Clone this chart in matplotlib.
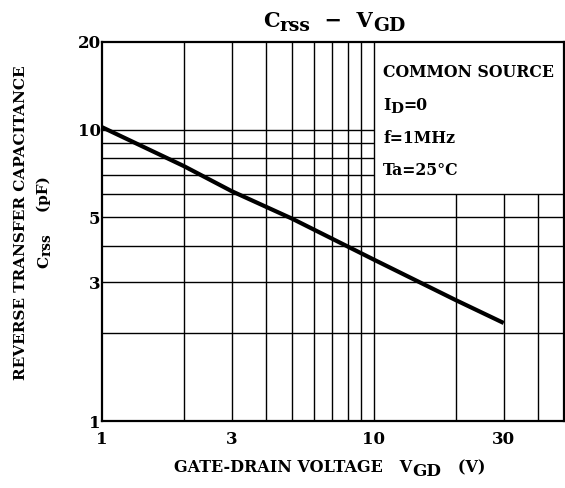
import matplotlib.pyplot as plt
from matplotlib.ticker import FixedLocator, NullLocator, FixedFormatter

plt.rcParams['font.family'] = 'DejaVu Serif'
plt.rcParams['font.weight'] = 'bold'

# curve
vgd = [1, 2, 3, 5, 10, 20, 30]
crss = [10.2, 7.5, 6.15, 4.95, 3.58, 2.6, 2.17]

x_ticks = [1, 3, 10, 30]
y_ticks = [1, 3, 5, 10, 20]
x_grid_full = [2, 3, 4, 5, 6, 7, 8, 9, 10]
x_grid_low = [20, 30, 40]
y_grid_full = [2, 3, 4, 5, 6]
y_grid_left = [7, 8, 9, 10]

W, H = 565, 488
fig = plt.figure(figsize=(W / 100, H / 100), dpi=100)
ax = fig.add_axes([102 / W, 67 / H, 462 / W, 379 / H])
ax.set_xscale('log')
ax.set_yscale('log')
ax.set_xlim(1, 50)
ax.set_ylim(1, 20)

# datasheet style grid, cut away behind the conditions box
ax.vlines(x_grid_full, 1, 20, color='black', lw=1.0, zorder=1)
ax.vlines(x_grid_low, 1, 6, color='black', lw=1.0, zorder=1)
ax.hlines(y_grid_full, 1, 50, color='black', lw=1.0, zorder=1)
ax.hlines(y_grid_left, 1, 10, color='black', lw=1.0, zorder=1)

ax.plot(vgd, crss, color='black', lw=3.0, solid_capstyle='butt', zorder=3)

for s in ax.spines.values():
    s.set_linewidth(1.6)

ax.xaxis.set_major_locator(FixedLocator(x_ticks))
ax.xaxis.set_major_formatter(FixedFormatter([str(v) for v in x_ticks]))
ax.yaxis.set_major_locator(FixedLocator(y_ticks))
ax.yaxis.set_major_formatter(FixedFormatter([str(v) for v in y_ticks]))
ax.xaxis.set_minor_locator(NullLocator())
ax.yaxis.set_minor_locator(NullLocator())
ax.tick_params(length=0, labelsize=12)
ax.tick_params(axis='x', pad=7)
ax.tick_params(axis='y', pad=1)

renderer = fig.canvas.get_renderer()


def runs(x, y, parts, size, rot=0, align='center'):
    """Draw text pieces one after another, in pixels from top-left.
    parts: (text, scale, drop) with drop in pixels (subscripts)."""
    texts = []
    total = 0
    for s, scale, drop in parts:
        t = fig.text(0, 0, s, fontsize=size * scale, rotation=rot,
                     rotation_mode='anchor', ha='left', va='baseline',
                     transform=None)
        bb = t.get_window_extent(renderer)
        step = bb.width if rot == 0 else bb.height
        texts.append((t, step, drop))
        total += step
    pos = -total / 2 if align == 'center' else 0
    for t, step, drop in texts:
        if rot == 0:
            t.set_position((x + pos, H - y - drop))
        else:
            t.set_position((x + drop, H - y + pos))
        pos += step


runs(334, 27, [("C", 1, 0), ("rss", 0.9, 4), ("  −  V", 1, 0),
               ("GD", 0.9, 4)], 15)
runs(383, 77, [("COMMON SOURCE", 1, 0)], 11.3, align='left')
runs(383, 110, [("I", 1, 0), ("D", 0.95, 3), ("=0", 1, 0)], 11.3,
     align='left')
runs(383, 143, [("f=1MHz", 1, 0)], 11.3, align='left')
runs(383, 175, [("Ta=25°C", 1, 0)], 11.3, align='left')
runs(330, 472, [("GATE-DRAIN VOLTAGE   V", 1, 0), ("GD", 1.05, 4),
                ("   (V)", 1, 0)], 11.5)
runs(25, 223, [("REVERSE TRANSFER CAPACITANCE", 1, 0)], 11, rot=90)
runs(48, 222, [("C", 1, 0), ("rss", 0.9, 3), ("    (pF)", 1, 0)], 11,
     rot=90)

fig.savefig('out.png', dpi=100)
